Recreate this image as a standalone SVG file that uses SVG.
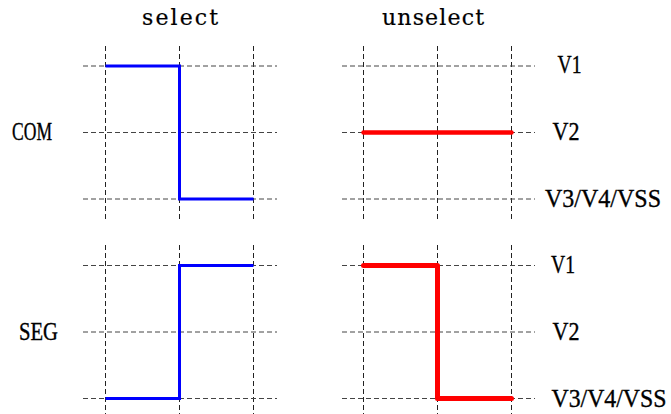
<svg xmlns="http://www.w3.org/2000/svg" width="671" height="414" viewBox="0 0 671 414">
<style>
.bg{fill:#ffffff}
.grid{stroke:#222;stroke-width:1;stroke-dasharray:5 3;fill:none}
.gridh{stroke:#444;stroke-width:1;stroke-dasharray:5 3;fill:none}
.sel{stroke:#0000ff;stroke-width:3;fill:none;stroke-linejoin:miter}
.uns{stroke:#ff0000;stroke-width:4.5;fill:none;stroke-linecap:round;stroke-linejoin:round}
.uns2{stroke:#ff0000;stroke-width:5;fill:none;stroke-linecap:round;stroke-linejoin:round}
text{font-family:"Liberation Serif","DejaVu Serif",serif;font-size:25px;fill:#000;stroke:#000;stroke-width:0.35}
.t{font-family:"DejaVu Serif","Liberation Serif",serif;font-size:22px;stroke-width:0.2}
</style>
<rect class="bg" x="0" y="0" width="671" height="414"/>
<g id="grid">
  <path class="grid" d="M105.5 46V219M179.5 46V219M253.5 46V219M105.5 245V414M179.5 245V414M253.5 245V414"/>
  <path class="grid" d="M363.5 46V219M437.5 46V219M511.5 46V219M363.5 245V414M437.5 245V414M511.5 245V414"/>
  <path class="gridh" d="M83 66H277M83 132.5H277M83 199H277M83 265.5H277M83 332H277M83 398.5H277"/>
  <path class="gridh" d="M342 66H535M342 132.5H535M342 199H535M342 265.5H535M342 332H535M342 398.5H535"/>
</g>
<g id="connectors">
  <path id="com-select" class="sel" d="M105.5 66H179.5V199H253.5"/>
  <path id="seg-select" class="sel" d="M105.5 398.5H179.5V265.5H253.5"/>
  <path id="com-unselect" class="uns" d="M363.5 132.5H511.5"/>
  <path id="seg-unselect" class="uns2" d="M363.5 265.5H437.5V398.5H511.5"/>
</g>
<g id="title-select"><text class="t" x="142" y="25" textLength="76" lengthAdjust="spacing">select</text></g>
<g id="title-unselect"><text class="t" x="382" y="25" textLength="102" lengthAdjust="spacing">unselect</text></g>
<g id="label-com"><text x="12" y="140" textLength="40" lengthAdjust="spacingAndGlyphs">COM</text></g>
<g id="label-seg"><text x="19" y="339.5" textLength="39" lengthAdjust="spacingAndGlyphs">SEG</text></g>
<g id="com-v1"><text x="557.5" y="73" textLength="24" lengthAdjust="spacingAndGlyphs">V1</text></g>
<g id="com-v2"><text x="552.5" y="140" textLength="27" lengthAdjust="spacingAndGlyphs">V2</text></g>
<g id="com-v3"><text x="545" y="206.5" textLength="116" lengthAdjust="spacingAndGlyphs">V3/V4/VSS</text></g>
<g id="seg-v1"><text x="551" y="273" textLength="24" lengthAdjust="spacingAndGlyphs">V1</text></g>
<g id="seg-v2"><text x="552.5" y="340" textLength="27" lengthAdjust="spacingAndGlyphs">V2</text></g>
<g id="seg-v3"><text x="551.5" y="406.5" textLength="115" lengthAdjust="spacingAndGlyphs">V3/V4/VSS</text></g>
</svg>
